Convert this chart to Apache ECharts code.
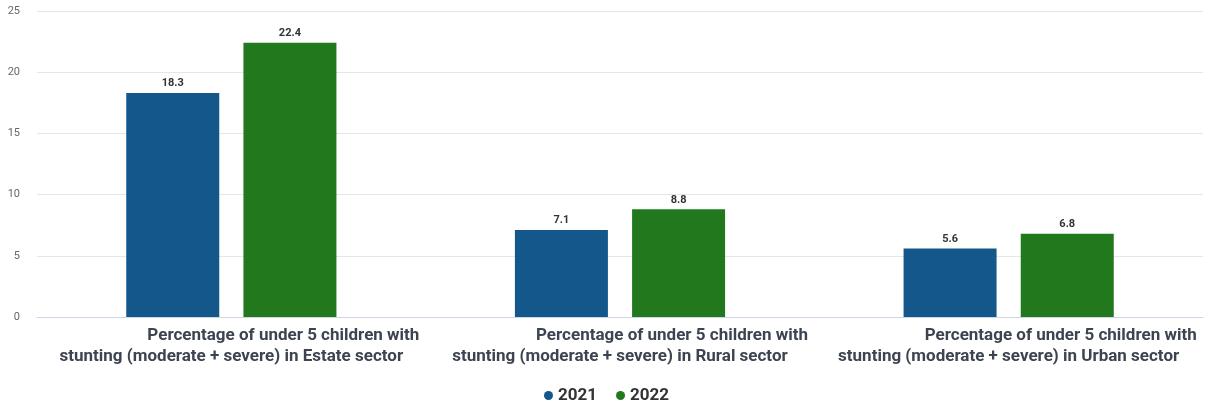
<!DOCTYPE html>
<html>
<head>
<meta charset="utf-8">
<script src="https://cdn.jsdelivr.net/npm/echarts@6/dist/echarts.min.js"></script>
<style>
  html, body { margin: 0; padding: 0; background: #fff; }
  #chart { width: 1208px; height: 405px; }
</style>
</head>
<body>
<div id="chart"></div>
<script>
// Stunting among under-5 children by sector
const categoryLine1 = [
  'Percentage of under 5 children with',
  'Percentage of under 5 children with',
  'Percentage of under 5 children with'
];
const categoryLine2 = [
  'stunting (moderate + severe) in Estate sector',
  'stunting (moderate + severe) in Rural sector',
  'stunting (moderate + severe) in Urban sector'
];
const categories = categoryLine1.map((l, i) => l + '\n' + categoryLine2[i]);
const seriesNames = ['2021', '2022'];
const values2021 = [18.3, 7.1, 5.6];
const values2022 = [22.4, 8.8, 6.8];
const yTicks = [0, 5, 10, 15, 20, 25];

const colors = ['#13578b', '#22781c'];

const chart = echarts.init(document.getElementById('chart'), null, { renderer: 'canvas' });

const barLabel = {
  show: true,
  position: 'top',
  distance: 4,
  color: '#333',
  fontFamily: 'Roboto',
  fontWeight: 'bold',
  fontSize: 11
};

chart.setOption({
  animation: false,
  color: colors,
  grid: { left: 37, right: 5, top: 11, bottom: 88, containLabel: false },
  legend: {
    top: 382,
    left: 539,
    icon: 'circle',
    itemWidth: 9,
    itemHeight: 9,
    itemGap: 19,
    textStyle: { color: '#333', fontFamily: 'Roboto', fontWeight: 'bold', fontSize: 17 },
    data: seriesNames
  },
  xAxis: {
    type: 'category',
    data: categories,
    axisLine: { lineStyle: { color: '#ccd6eb' } },
    axisTick: { show: false },
    axisLabel: {
      interval: 0,
      margin: 8,
      formatter: (v) => {
        const parts = v.split('\n');
        return '{a|' + parts[0] + '}\n{b|' + parts[1] + '}';
      },
      rich: {
        a: { color: '#3d4451', fontFamily: 'Roboto', fontWeight: 'bold', fontSize: 17, lineHeight: 21, padding: [0, 0, 0, 104] },
        b: { color: '#3d4451', fontFamily: 'Roboto', fontWeight: 'bold', fontSize: 17, lineHeight: 21 }
      }
    }
  },
  yAxis: {
    type: 'value',
    min: yTicks[0],
    max: yTicks[yTicks.length - 1],
    interval: 5,
    axisLine: { show: false },
    axisTick: { show: false },
    axisLabel: { color: '#666', fontFamily: 'Roboto', fontSize: 11, margin: 17 },
    splitLine: { lineStyle: { color: '#e6e6e6' } }
  },
  series: [
    {
      name: seriesNames[0], type: 'bar', data: values2021,
      barWidth: 93, barGap: '26%',
      itemStyle: { color: colors[0] },
      label: barLabel
    },
    {
      name: seriesNames[1], type: 'bar', data: values2022,
      barWidth: 93,
      itemStyle: { color: colors[1] },
      label: barLabel
    }
  ]
});
</script>
</body>
</html>
